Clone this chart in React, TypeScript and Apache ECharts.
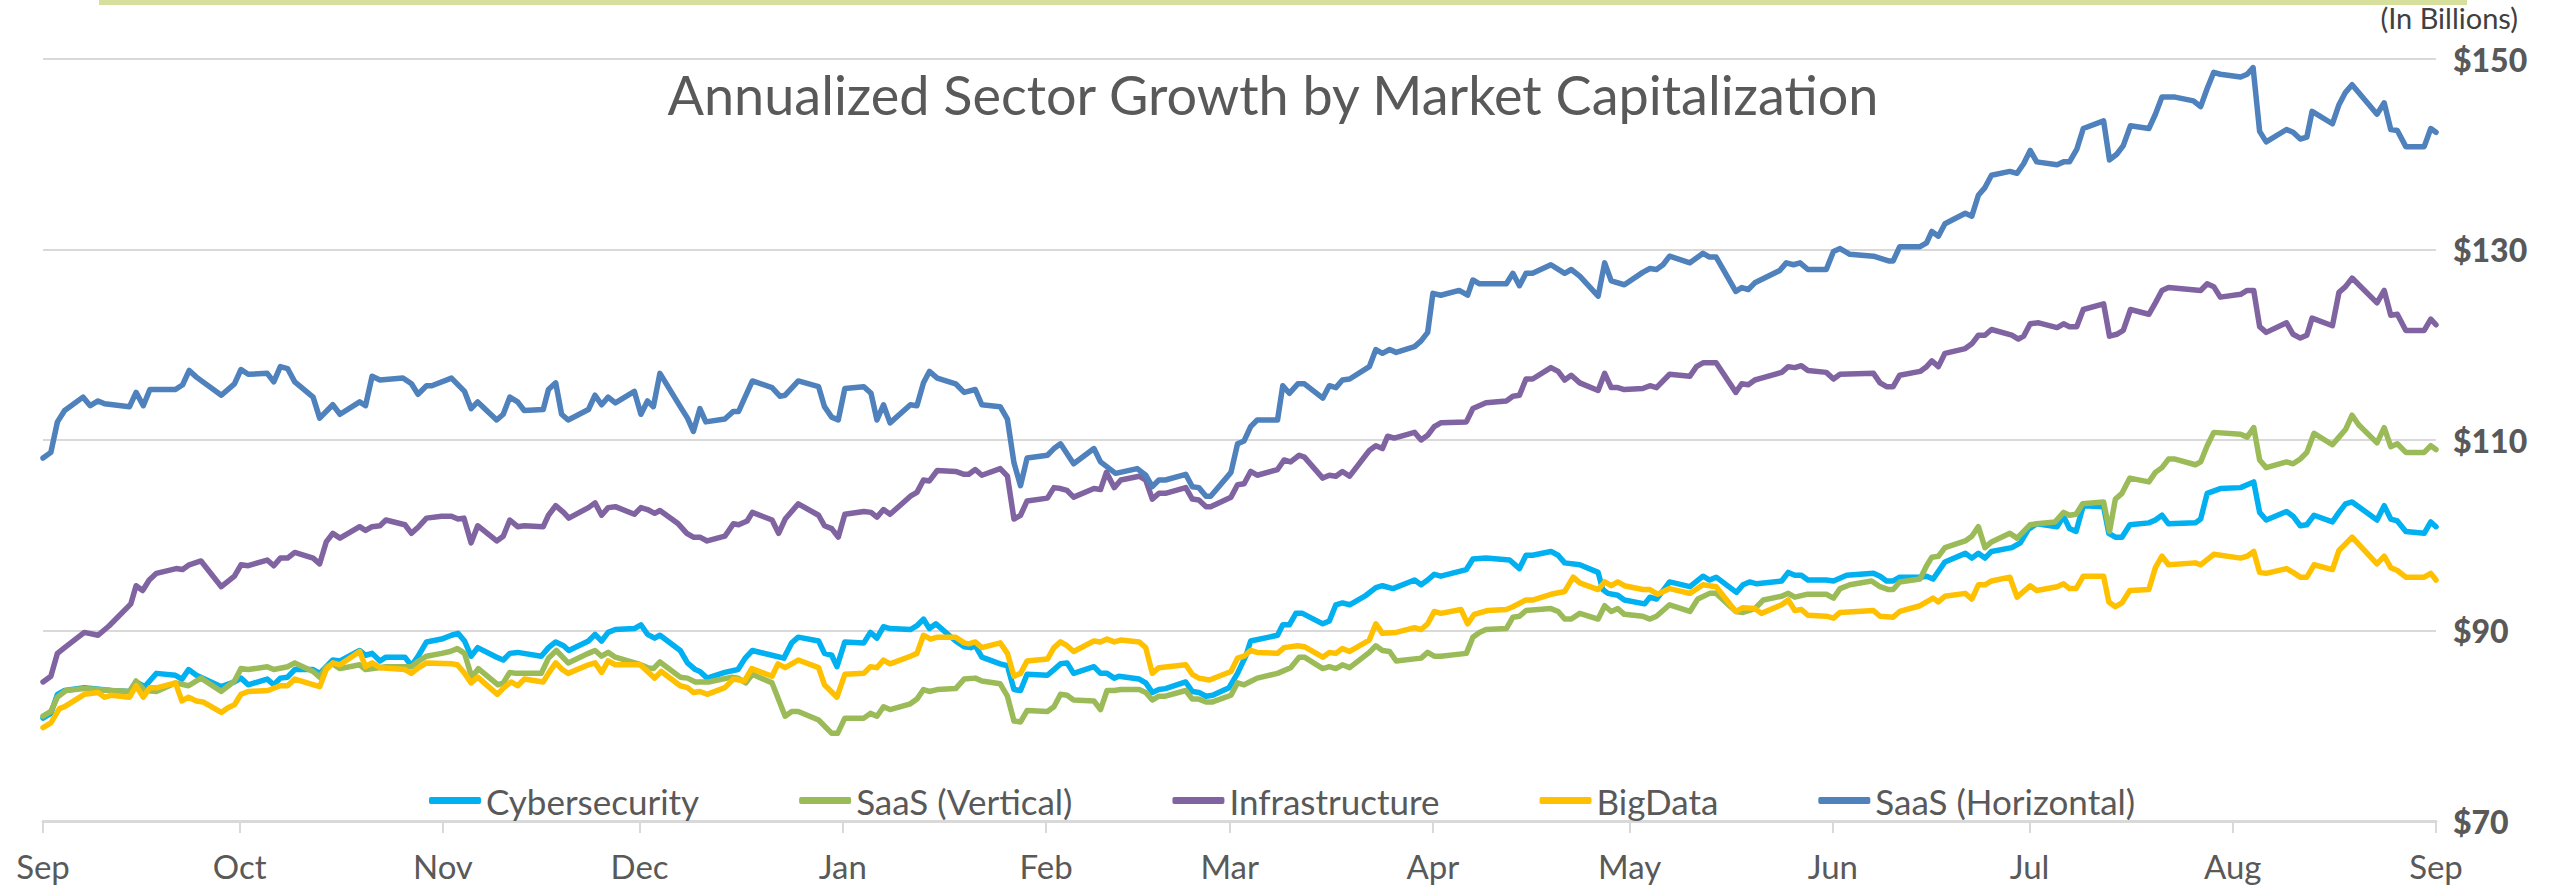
import React, { useEffect, useRef } from 'react';
import * as echarts from 'echarts';

// Day offsets from Sep 1 at which each month starts (tick positions) and their labels
const monthTickDays = [0, 30, 61, 91, 122, 153, 181, 212, 242, 273, 303, 334, 365];
const monthLabels = ['Sep', 'Oct', 'Nov', 'Dec', 'Jan', 'Feb', 'Mar', 'Apr', 'May', 'Jun', 'Jul', 'Aug', 'Sep'];

const seriesNames = ['Cybersecurity', 'SaaS (Vertical)', 'Infrastructure', 'BigData', 'SaaS (Horizontal)'];
const seriesColors = ['#00B0F0', '#9BBB59', '#8064A2', '#FFC000', '#4F81BD'];

// [day offset from Sep 1, value in $ billions]
const cybersecurity: [number, number][] = [[0,80.8],[1.2,81.3],[2.2,83.3],[3.3,83.7],[6.3,84.0],[10.4,83.7],[13.2,83.6],[14.2,84.6],[15.5,84.1],[17.3,85.5],[20.2,85.3],[21.2,84.9],[22.2,85.9],[23.4,85.3],[27.2,84.1],[29.2,84.6],[30.2,85.0],[31.3,84.3],[34.2,84.9],[35.2,84.3],[36.2,85.0],[37.3,85.1],[38.4,85.9],[41.2,85.9],[42.2,85.5],[44.2,86.9],[45.3,86.8],[48.3,87.9],[49.2,87.4],[50.2,87.6],[51.4,86.8],[52.3,87.2],[55.2,87.2],[56.2,86.3],[57.3,87.4],[58.5,88.8],[60.8,89.1],[62.3,89.5],[63.3,89.7],[64.3,88.9],[65.3,87.3],[66.3,88.2],[69.2,87.2],[70.2,86.9],[71.2,87.6],[72.4,87.7],[76.0,87.3],[77.1,88.2],[78.2,88.8],[79.4,88.4],[80.2,87.9],[83.2,88.9],[84.2,89.6],[85.2,88.9],[86.2,89.8],[87.3,90.1],[90.2,90.2],[91.2,90.6],[92.2,89.6],[93.3,89.2],[94.1,89.5],[97.2,87.9],[98.3,86.6],[99.5,85.9],[100.2,85.7],[101.3,85.0],[104.0,85.6],[106.0,85.9],[107.1,87.1],[108.2,87.9],[111.2,87.4],[113.0,87.1],[114.2,88.7],[115.2,89.3],[118.3,88.9],[119.2,87.6],[120.3,87.4],[121.1,86.2],[122.3,88.8],[125.2,88.7],[126.2,89.8],[127.2,89.2],[128.2,90.4],[129.2,90.2],[132.3,90.1],[133.3,90.5],[134.3,91.2],[135.2,90.2],[136.2,90.7],[139.2,88.9],[140.5,88.3],[141.5,88.2],[142.2,88.4],[143.2,87.2],[146.0,86.5],[147.1,86.3],[148.1,83.8],[149.1,83.7],[150.1,85.4],[153.2,85.3],[154.2,85.9],[155.2,86.5],[156.2,86.6],[157.2,85.5],[160.3,86.2],[161.3,85.5],[162.3,85.5],[163.4,85.0],[164.1,85.2],[167.2,84.9],[168.2,84.5],[169.2,83.5],[170.2,83.8],[171.2,83.9],[174.3,84.6],[175.3,83.6],[176.3,83.5],[177.4,83.1],[178.4,83.2],[180.9,84.0],[182.2,85.5],[183.5,87.4],[184.2,88.9],[188.3,89.5],[189.1,90.6],[190.1,90.6],[191.1,91.8],[192.1,91.8],[195.2,90.7],[196.2,91.0],[197.2,92.7],[198.2,92.9],[199.3,92.7],[201.8,93.7],[203.3,94.5],[204.3,94.7],[205.9,94.4],[209.2,95.3],[210.2,94.8],[211.2,95.3],[212.2,95.9],[213.2,95.7],[217.1,96.4],[218.1,97.5],[220.1,97.6],[223.7,97.4],[225.2,96.5],[226.2,97.9],[227.2,97.9],[230.0,98.3],[231.1,97.9],[232.1,97.1],[234.4,96.9],[237.2,96.1],[237.9,94.3],[238.7,93.9],[240.2,93.7],[241.2,93.2],[244.3,92.8],[245.1,93.5],[246.1,93.3],[248.1,95.1],[251.2,94.6],[253.2,95.7],[254.2,95.3],[255.2,95.6],[258.3,94.0],[259.3,94.8],[260.3,95.1],[261.4,94.9],[265.2,95.2],[266.2,96.1],[267.2,95.8],[268.2,95.8],[269.2,95.3],[272.0,95.3],[273.1,95.2],[275.1,95.8],[279.2,96.0],[280.2,95.7],[281.2,95.2],[282.2,95.2],[283.2,95.6],[286.3,95.6],[287.3,95.7],[288.3,95.4],[290.1,97.2],[293.2,98.1],[294.2,97.6],[295.2,98.1],[296.2,97.6],[297.2,98.3],[300.3,98.7],[301.6,99.2],[302.8,100.6],[304.1,101.2],[307.2,100.9],[308.2,102.0],[309.1,100.7],[310.1,100.4],[311.2,103.1],[314.3,103.0],[315.1,100.2],[316.1,99.8],[317.1,99.8],[318.3,101.1],[321.2,101.3],[322.2,101.6],[323.2,102.1],[324.2,101.2],[328.3,101.3],[329.1,101.7],[330.1,104.4],[332.1,104.9],[335.2,105.0],[336.2,105.3],[337.2,105.6],[338.1,102.4],[339.1,101.6],[342.2,102.5],[343.2,102.0],[344.3,101.0],[345.3,101.1],[346.4,102.1],[349.2,101.4],[350.2,102.4],[351.2,103.3],[352.2,103.5],[356.0,101.6],[357.1,103.1],[358.1,101.7],[359.1,101.5],[360.4,100.4],[363.2,100.2],[364.2,101.4],[365,100.9]];

const saasVertical: [number, number][] = [[0,81.0],[1.2,81.5],[2.2,83.0],[3.5,83.7],[6.3,83.9],[10.4,83.7],[13.2,83.6],[14.2,84.7],[15.5,83.7],[17.3,83.6],[20.2,84.5],[22.2,84.2],[24.1,85.0],[27.2,83.6],[29.2,84.7],[30.2,86.0],[31.3,85.9],[34.2,86.2],[35.2,85.9],[37.3,86.2],[38.4,86.6],[41.2,85.7],[42.2,85.1],[43.2,86.2],[44.2,86.5],[45.3,86.0],[48.3,86.4],[49.2,85.9],[52.3,86.2],[56.2,86.2],[57.3,86.8],[58.5,87.3],[60.8,87.6],[62.1,87.8],[63.2,88.1],[64.3,87.6],[65.4,85.1],[66.4,86.0],[69.4,84.3],[70.2,84.5],[71.2,85.6],[72.2,85.5],[76.0,85.5],[77.1,87.1],[78.3,87.9],[80.1,86.6],[83.2,87.6],[84.2,87.9],[85.2,87.3],[86.2,87.7],[87.3,87.2],[90.8,86.5],[92.2,86.1],[93.1,86.0],[94.1,86.7],[97.2,85.1],[98.3,85.0],[99.5,84.6],[101.5,84.6],[105.1,85.1],[106.0,85.0],[107.2,84.5],[108.2,85.4],[111.2,84.5],[113.2,81.0],[114.2,81.5],[115.2,81.5],[118.3,80.6],[120.3,79.2],[121.2,79.2],[122.3,80.8],[125.2,80.8],[126.2,81.3],[127.2,81.0],[128.2,82.0],[129.2,81.7],[132.3,82.3],[133.3,82.8],[134.3,83.8],[135.2,83.6],[136.4,83.8],[139.2,83.9],[140.5,84.9],[142.2,85.0],[143.2,84.7],[146.0,84.4],[147.1,83.1],[148.1,80.5],[149.1,80.4],[150.1,81.6],[153.2,81.5],[154.2,82.0],[155.2,83.3],[156.2,83.2],[157.2,82.7],[160.3,82.6],[161.3,81.7],[162.3,83.7],[163.4,83.7],[164.4,83.8],[167.2,83.8],[168.2,83.5],[169.2,82.7],[170.2,83.1],[171.2,83.1],[174.3,83.7],[175.3,82.8],[176.3,82.8],[177.4,82.5],[178.4,82.5],[181.2,83.2],[182.2,84.5],[183.2,84.3],[185.2,85.0],[188.3,85.5],[190.3,86.1],[191.6,87.2],[192.4,87.2],[195.2,86.0],[196.2,86.2],[197.2,86.0],[198.2,86.4],[199.3,86.1],[202.3,87.7],[203.3,88.4],[204.3,87.9],[205.4,87.8],[206.4,86.8],[210.2,87.1],[211.2,87.7],[212.2,87.3],[213.2,87.3],[217.1,87.6],[218.1,89.3],[219.1,89.8],[220.1,90.1],[223.2,90.2],[224.2,91.4],[225.2,91.5],[226.2,92.1],[230.0,92.3],[231.1,92.0],[232.1,91.2],[233.1,91.2],[234.4,91.8],[237.2,91.2],[238.2,92.6],[239.2,92.0],[240.2,92.3],[241.2,91.7],[244.0,91.5],[245.1,91.2],[246.1,91.5],[248.1,92.7],[251.2,92.0],[252.4,93.3],[254.2,93.9],[255.2,93.9],[258.2,92.0],[259.3,91.9],[261.1,92.3],[262.4,93.2],[265.2,93.6],[266.2,93.9],[267.2,93.5],[269.0,93.8],[272.0,93.8],[273.1,93.4],[274.1,94.4],[275.6,94.8],[278.9,95.2],[280.2,94.6],[281.5,94.3],[282.2,94.3],[283.2,95.1],[286.3,95.4],[287.3,96.8],[288.1,97.7],[289.1,97.8],[290.1,98.7],[293.2,99.4],[294.2,99.9],[295.2,100.9],[296.2,98.7],[297.2,99.3],[300.0,100.2],[301.1,99.7],[302.1,100.4],[303.1,101.1],[304.1,101.2],[306.9,101.4],[308.2,102.4],[309.1,102.1],[310.1,102.2],[311.1,103.3],[314.3,103.5],[315.2,100.4],[316.1,103.8],[317.1,104.4],[318.3,106.0],[321.2,105.6],[322.2,106.6],[323.2,107.1],[324.2,108.0],[325.2,108.0],[328.3,107.4],[329.1,107.7],[330.1,109.4],[331.1,110.8],[335.2,110.6],[336.2,110.3],[337.2,111.3],[338.1,107.9],[339.1,107.1],[342.2,107.7],[343.2,107.5],[344.3,108.0],[345.3,108.7],[346.4,110.7],[349.2,109.5],[350.2,110.3],[351.2,111.1],[352.2,112.6],[353.2,111.6],[356.0,109.7],[357.1,111.3],[358.1,109.3],[359.1,109.6],[360.4,108.7],[363.2,108.7],[364.2,109.4],[365,109.0]];

const infrastructure: [number, number][] = [[0,84.6],[1.2,85.2],[2.2,87.6],[3.3,88.2],[6.3,89.8],[8.4,89.5],[10.1,90.5],[13.4,92.8],[14.2,94.7],[15.2,94.2],[16.2,95.3],[17.3,96.0],[20.3,96.5],[21.3,96.4],[22.3,96.9],[24.1,97.3],[27.2,94.6],[29.2,95.7],[30.2,96.9],[31.3,96.8],[34.2,97.4],[35.2,96.8],[36.2,97.6],[37.3,97.6],[38.4,98.2],[41.2,97.6],[42.2,97.0],[43.2,99.3],[44.2,100.2],[45.3,99.7],[48.3,100.9],[49.2,100.5],[50.2,100.9],[51.4,101.0],[52.3,101.6],[55.2,101.1],[56.2,100.2],[57.3,100.9],[58.5,101.8],[60.8,102.0],[62.3,102.0],[63.3,101.7],[64.2,101.8],[65.3,99.2],[66.3,101.0],[69.2,99.4],[70.2,99.9],[71.2,101.6],[72.4,100.9],[73.4,101.0],[76.3,100.9],[77.1,102.1],[78.2,103.1],[79.4,102.4],[80.2,101.8],[83.2,102.9],[84.2,103.4],[85.2,102.1],[86.2,102.9],[87.3,103.0],[90.2,102.2],[91.2,102.9],[92.2,102.7],[93.3,102.3],[94.1,102.6],[96.9,101.2],[98.2,100.2],[99.2,99.8],[100.2,99.8],[101.3,99.4],[104.0,99.9],[105.3,101.2],[106.1,101.1],[107.4,101.5],[108.2,102.4],[111.2,101.6],[112.2,100.2],[113.2,101.7],[115.2,103.3],[118.3,102.1],[119.2,101.0],[120.3,100.7],[121.3,99.8],[122.3,102.2],[125.2,102.5],[126.3,102.4],[127.2,101.9],[128.2,102.7],[129.2,102.2],[132.3,104.1],[133.3,104.5],[134.3,105.8],[135.2,105.7],[136.4,106.8],[139.2,106.7],[140.5,106.4],[141.2,106.4],[142.2,106.9],[143.2,106.3],[146.0,107.0],[147.1,106.2],[148.1,101.7],[149.1,102.1],[150.1,103.6],[153.2,103.9],[154.2,105.0],[155.2,104.9],[156.2,104.7],[157.2,104.0],[160.3,104.9],[161.3,104.8],[162.2,106.6],[163.4,105.0],[164.4,105.8],[167.2,106.2],[168.2,105.8],[169.2,103.8],[170.2,104.4],[171.2,104.4],[174.3,105.0],[175.3,103.8],[176.3,103.7],[177.4,103.0],[178.1,103.0],[181.2,104.0],[182.2,105.3],[183.2,105.4],[184.2,106.7],[185.2,106.3],[188.3,106.9],[189.3,107.9],[190.3,107.7],[191.6,108.4],[192.4,108.2],[195.2,106.0],[196.2,106.3],[197.2,106.2],[198.2,106.7],[199.3,106.2],[202.3,108.9],[203.3,109.4],[204.3,109.1],[205.1,110.4],[206.1,110.2],[209.2,110.8],[210.2,110.0],[211.2,110.5],[212.2,111.4],[213.2,111.8],[217.1,111.9],[218.1,113.3],[220.1,113.9],[223.2,114.1],[224.2,114.6],[225.2,114.7],[226.2,116.4],[227.2,116.4],[230.0,117.6],[231.1,117.2],[232.1,116.3],[233.1,116.8],[234.4,116.0],[237.2,115.2],[238.2,117.0],[239.2,115.5],[240.2,115.5],[241.2,115.3],[244.0,115.4],[245.1,115.7],[246.1,115.5],[248.1,116.9],[251.2,116.7],[252.2,117.7],[253.2,118.1],[255.2,118.1],[258.2,115.0],[259.1,115.9],[260.1,115.8],[261.1,116.3],[262.1,116.5],[265.2,117.1],[266.2,117.7],[267.2,117.6],[268.2,117.8],[269.2,117.3],[272.0,117.1],[273.1,116.4],[274.1,116.9],[279.2,117.0],[280.2,116.0],[281.2,115.6],[282.2,115.6],[283.2,116.8],[286.3,117.2],[287.3,117.7],[288.1,118.3],[289.1,117.7],[290.1,119.1],[293.2,119.6],[294.2,120.1],[295.2,121.0],[296.2,121.0],[297.2,121.6],[300.3,121.0],[301.3,120.6],[302.1,120.9],[303.1,122.2],[304.4,122.3],[307.2,121.8],[308.2,122.2],[309.1,121.9],[310.2,121.9],[311.2,123.7],[314.3,124.3],[315.2,120.9],[316.3,121.1],[317.3,121.5],[318.4,123.7],[321.2,123.2],[322.2,124.4],[323.2,125.7],[324.2,126.0],[329.1,125.7],[330.1,126.4],[331.1,126.1],[332.1,125.0],[335.2,125.3],[336.2,125.7],[337.2,125.7],[338.1,121.9],[339.1,121.3],[342.2,122.3],[343.2,121.1],[344.3,120.7],[345.3,121.0],[346.1,122.8],[349.2,122.0],[350.2,125.5],[351.2,126.1],[352.2,127.0],[356.0,124.4],[357.1,125.7],[358.1,123.1],[359.1,123.2],[360.4,121.5],[363.2,121.5],[364.2,122.7],[365,122.1]];

const bigData: [number, number][] = [[0,79.8],[1.2,80.3],[2.5,81.8],[3.3,82.0],[6.3,83.3],[8.4,83.5],[9.4,83.0],[10.4,83.2],[13.2,83.0],[14.2,84.2],[15.3,83.0],[16.3,84.0],[17.5,84.0],[20.2,84.5],[21.2,82.6],[22.2,83.0],[23.4,82.6],[24.4,82.5],[27.2,81.4],[28.2,81.9],[29.2,82.2],[30.2,83.3],[31.3,83.6],[34.3,83.7],[36.2,84.2],[37.3,84.2],[38.4,84.9],[42.2,84.1],[43.2,85.9],[44.2,86.6],[45.3,86.4],[48.3,87.8],[49.2,86.2],[50.2,86.6],[51.4,86.1],[55.2,85.9],[56.2,85.5],[57.3,86.1],[58.5,86.6],[62.3,86.5],[63.2,86.4],[64.2,85.6],[65.3,84.5],[66.3,85.1],[69.3,83.3],[70.3,84.0],[71.4,84.6],[72.4,84.2],[73.4,84.9],[76.3,84.6],[77.1,85.5],[78.2,86.6],[79.2,85.9],[80.1,85.5],[83.2,86.4],[84.2,86.6],[85.2,85.6],[86.2,86.8],[87.3,86.4],[91.1,86.4],[93.3,85.0],[94.3,85.7],[97.2,84.2],[98.3,84.0],[99.2,83.5],[100.2,83.6],[101.3,83.3],[104.0,84.0],[105.3,84.9],[107.0,84.7],[108.1,86.0],[111.2,85.2],[112.1,86.5],[113.2,86.1],[115.2,86.9],[118.3,86.1],[119.2,84.3],[121.1,83.0],[122.3,85.4],[125.2,85.5],[126.2,86.2],[127.2,86.1],[128.2,86.9],[129.2,86.5],[132.3,87.3],[133.3,87.6],[134.3,89.5],[135.4,89.1],[136.4,89.3],[139.2,89.3],[140.5,88.7],[141.2,88.6],[142.2,88.8],[143.2,88.2],[146.0,88.7],[147.1,87.6],[148.1,85.2],[149.1,85.5],[150.1,86.8],[153.2,87.0],[154.2,88.2],[155.2,88.8],[156.2,88.4],[157.2,87.8],[160.3,88.9],[161.3,88.8],[162.3,89.1],[163.4,88.8],[164.4,89.0],[167.2,88.8],[168.2,88.2],[169.2,85.5],[170.2,86.1],[174.3,86.4],[175.3,85.4],[176.3,85.0],[177.9,84.8],[181.2,85.7],[182.2,87.1],[183.2,87.3],[184.2,87.9],[185.2,87.7],[188.3,87.6],[189.3,88.2],[191.4,88.4],[192.4,88.3],[195.2,87.2],[196.2,87.7],[197.2,87.6],[198.2,88.1],[199.3,87.8],[202.3,89.0],[203.3,90.7],[204.3,89.7],[206.4,89.8],[209.2,90.3],[210.2,90.1],[211.2,90.7],[212.2,92.0],[213.2,91.8],[216.3,92.2],[217.3,90.7],[218.3,91.7],[220.4,92.1],[223.2,92.2],[224.2,92.5],[226.2,93.2],[227.2,93.2],[230.0,93.8],[232.1,94.1],[233.4,95.6],[234.4,95.0],[237.2,94.3],[238.2,95.1],[239.2,94.7],[240.2,95.1],[241.2,94.7],[244.0,94.3],[245.1,94.3],[246.3,93.8],[248.1,94.4],[251.2,93.9],[253.2,94.8],[255.2,94.6],[258.2,92.0],[259.3,92.4],[261.1,92.3],[262.1,91.8],[265.2,92.7],[266.2,93.2],[267.2,92.1],[268.2,92.2],[269.2,91.6],[272.0,91.5],[273.1,91.3],[274.1,91.9],[279.2,92.1],[280.2,91.5],[282.2,91.4],[283.2,92.0],[286.3,92.6],[288.3,93.4],[289.1,93.0],[290.1,93.6],[293.2,93.9],[294.2,93.3],[295.2,94.8],[296.2,94.8],[297.2,95.2],[300.0,95.6],[301.1,93.5],[303.1,94.7],[304.1,94.2],[307.2,94.6],[308.2,94.9],[309.1,94.4],[310.1,94.4],[311.2,95.7],[314.3,95.7],[315.1,93.0],[316.1,92.5],[317.1,92.9],[318.3,94.2],[321.2,94.3],[322.2,96.6],[323.2,97.8],[324.2,96.9],[328.3,97.1],[329.1,96.9],[331.1,98.0],[335.2,97.6],[336.2,97.8],[337.2,98.3],[338.1,96.1],[339.1,96.0],[342.2,96.5],[343.2,96.1],[344.3,95.6],[345.3,95.6],[346.4,96.9],[349.2,96.4],[350.2,98.4],[351.2,99.1],[352.2,99.8],[356.0,97.0],[357.1,97.8],[358.1,96.6],[359.1,96.3],[360.4,95.6],[363.2,95.6],[364.2,96.0],[365,95.3]];

const saasHorizontal: [number, number][] = [[0,108.1],[1.2,108.7],[2.2,111.9],[3.3,113.1],[6.1,114.5],[7.2,113.6],[8.4,114.1],[9.4,113.8],[13.2,113.5],[14.2,115.0],[15.3,113.6],[16.3,115.3],[20.2,115.3],[21.3,115.8],[22.3,117.3],[23.4,116.6],[27.2,114.7],[29.2,115.9],[30.2,117.4],[31.3,116.9],[34.2,117.0],[35.2,116.1],[36.2,117.7],[37.3,117.5],[38.4,116.1],[41.2,114.5],[42.2,112.3],[44.2,113.7],[45.3,112.7],[48.3,114.0],[49.2,113.6],[50.2,116.7],[51.4,116.3],[54.9,116.5],[56.2,115.9],[57.2,114.8],[58.5,115.7],[59.3,115.7],[62.3,116.5],[64.3,115.1],[65.3,113.3],[66.3,114.0],[69.2,112.1],[70.2,112.7],[71.2,114.5],[72.4,114.0],[73.4,113.1],[76.3,113.2],[77.1,115.3],[78.2,116.0],[79.1,112.7],[80.1,112.1],[83.2,113.2],[84.2,114.7],[85.2,113.7],[86.2,114.5],[87.3,113.9],[90.2,115.1],[91.2,112.7],[92.2,114.1],[93.1,113.5],[94.1,117.0],[97.2,113.5],[98.3,112.3],[99.2,110.9],[100.2,113.3],[101.1,111.9],[104.0,112.2],[105.3,113.0],[106.1,113.0],[108.2,116.2],[111.2,115.5],[112.4,114.6],[113.2,114.7],[115.2,116.2],[118.3,115.6],[119.2,113.5],[120.3,112.4],[121.3,112.1],[122.3,115.4],[125.2,115.6],[126.3,114.9],[127.2,112.1],[128.2,113.7],[129.2,111.8],[132.3,113.7],[133.3,113.6],[134.3,116.0],[135.2,117.2],[136.4,116.5],[139.2,115.9],[140.5,115.0],[142.2,115.3],[143.2,113.7],[146.0,113.5],[147.1,112.2],[148.1,107.6],[149.1,105.2],[150.1,108.1],[153.2,108.4],[154.2,109.1],[155.2,109.6],[157.2,107.5],[160.3,109.1],[161.3,107.7],[163.6,106.5],[166.9,107.0],[168.2,106.3],[169.2,105.1],[170.2,105.8],[171.2,105.8],[174.3,106.4],[175.3,105.1],[176.3,105.0],[177.4,104.1],[178.1,104.1],[181.2,106.6],[182.2,109.6],[183.2,109.9],[184.2,111.4],[185.2,112.1],[188.3,112.1],[189.1,115.7],[190.1,114.9],[191.4,115.9],[192.4,115.9],[195.2,114.4],[196.2,115.7],[197.2,115.5],[198.2,116.3],[199.3,116.4],[202.3,117.7],[203.3,119.5],[204.3,119.1],[205.4,119.5],[206.4,119.2],[209.2,119.8],[210.2,120.4],[211.2,121.3],[212.0,125.4],[213.2,125.2],[216.0,125.7],[217.3,125.2],[218.1,126.8],[219.1,126.4],[223.2,126.4],[224.2,127.5],[225.2,126.2],[226.2,127.5],[227.2,127.5],[230.0,128.4],[232.1,127.5],[233.1,127.9],[234.4,127.2],[237.2,125.1],[238.2,128.6],[239.2,126.7],[241.2,126.3],[244.0,127.6],[245.1,128.0],[246.1,127.9],[247.1,128.4],[248.1,129.3],[251.2,128.6],[253.2,129.6],[254.2,129.2],[255.2,129.2],[258.2,125.6],[259.1,126.0],[260.1,125.8],[261.1,126.5],[264.9,127.8],[265.9,128.6],[267.0,128.4],[268.0,128.6],[269.2,127.9],[272.0,127.9],[273.1,129.8],[274.1,130.1],[275.6,129.5],[279.2,129.3],[281.5,128.8],[282.2,128.8],[283.2,130.3],[286.3,130.3],[287.3,130.7],[288.1,131.9],[289.1,131.4],[290.1,132.7],[293.2,133.8],[294.2,133.5],[295.2,135.7],[296.2,136.5],[297.2,137.8],[300.0,138.2],[301.1,138.0],[302.1,139.0],[303.1,140.4],[304.1,139.2],[307.2,138.9],[308.2,139.2],[309.1,139.2],[310.2,140.5],[311.2,142.7],[314.3,143.5],[315.2,139.4],[316.3,140.0],[317.3,140.9],[318.4,143.0],[321.2,142.7],[322.2,144.2],[323.2,146.0],[325.2,146.0],[328.0,145.6],[329.1,145.0],[330.1,146.9],[331.1,148.6],[332.1,148.4],[335.2,148.1],[336.2,148.4],[337.1,149.1],[338.1,142.4],[339.1,141.3],[342.2,142.6],[343.2,142.3],[344.3,141.6],[345.3,141.8],[346.1,144.5],[349.2,143.2],[350.2,145.2],[351.2,146.5],[352.2,147.3],[356.0,144.2],[357.1,145.4],[358.1,142.6],[359.1,142.5],[360.4,140.8],[363.2,140.8],[364.2,142.7],[365,142.3]];

const seriesData = [cybersecurity, saasVertical, infrastructure, bigData, saasHorizontal];

const FONT = 'Lato, "Open Sans", sans-serif';
const TEXT = '#595959';
const GRID = '#D9D9D9';

export default function App() {
  const ref = useRef<HTMLDivElement>(null);

  useEffect(() => {
    if (!ref.current) return;
    const chart = echarts.init(ref.current, undefined, { renderer: 'svg' });
    chart.setOption({
      animation: false,
      backgroundColor: '#FFFFFF',
      grid: { left: 43, right: 116, top: 59, bottom: 68, containLabel: false },
      xAxis: {
        type: 'value',
        min: 0,
        max: 365,
        axisLine: { show: true, lineStyle: { color: GRID, width: 3 } },
        axisTick: { show: true, customValues: monthTickDays, length: 12, lineStyle: { color: GRID, width: 2 } },
        axisLabel: {
          customValues: monthTickDays,
          formatter: (v: number) => monthLabels[monthTickDays.indexOf(Math.round(v))] ?? '',
          color: TEXT,
          fontSize: 33,
          fontFamily: FONT,
          margin: 28,
        },
        splitLine: { show: false },
      },
      yAxis: {
        type: 'value',
        position: 'right',
        min: 70,
        max: 150,
        interval: 20,
        axisLine: { show: false },
        axisTick: { show: false },
        axisLabel: {
          formatter: '${value}',
          color: TEXT,
          fontWeight: 900,
          fontSize: 32,
          fontFamily: FONT,
          margin: 17,
        },
        splitLine: { lineStyle: { color: GRID, width: 2 } },
      },
      legend: {
        left: 424,
        top: 778,
        itemWidth: 52,
        itemHeight: 7,
        itemGap: 100,
        icon: 'roundRect',
        textStyle: { color: TEXT, fontSize: 35, fontFamily: FONT },
        data: seriesNames,
      },
      graphic: [
        { type: 'rect', shape: { x: 99, y: 0, width: 2368, height: 5 }, style: { fill: '#D6E09C' } },
        {
          type: 'text', x: 1273, y: 94,
          style: { text: 'Annualized Sector Growth by Market Capitalization', align: 'center', verticalAlign: 'middle', textAlign: 'center', textVerticalAlign: 'middle', fontSize: 54, fontFamily: FONT, fill: TEXT },
        },
        {
          type: 'text', x: 2518, y: 17,
          style: { text: '(In Billions)', align: 'right', verticalAlign: 'middle', textAlign: 'right', textVerticalAlign: 'middle', fontSize: 29, fontFamily: FONT, fill: '#404040' },
        },
      ],
      series: seriesNames.map((name, i) => ({
        name,
        type: 'line',
        data: seriesData[i],
        showSymbol: false,
        symbol: 'none',
        color: seriesColors[i],
        lineStyle: { color: seriesColors[i], width: 5.5, cap: 'round', join: 'round' },
      })),
    });
    return () => chart.dispose();
  }, []);

  return <div ref={ref} style={{ position: 'fixed', left: 0, top: 0, width: 2552, height: 889 }} />;
}
